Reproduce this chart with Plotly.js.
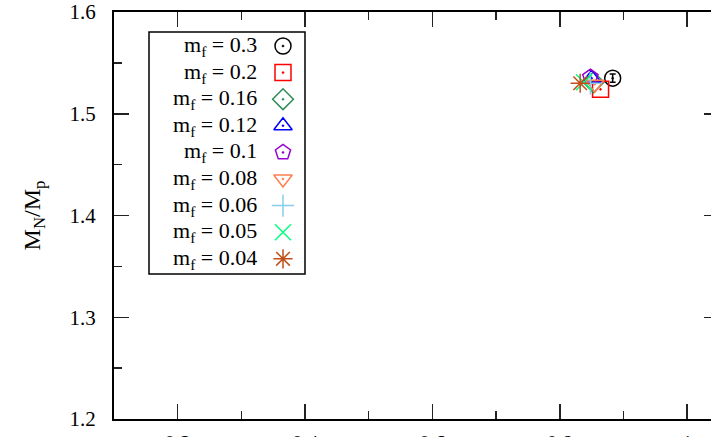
<!DOCTYPE html>
<html>
<head>
<meta charset="utf-8">
<script src="https://cdn.plot.ly/plotly-3.0.1.min.js"></script>
<style>
  html, body { margin: 0; padding: 0; overflow: hidden; background: #fff; }
  #grafico { width: 740px; height: 460px; }
</style>
</head>
<body>
<div id="grafico"></div>
<script>
// valores
const massas = ['0.3', '0.2', '0.16', '0.12', '0.1', '0.08', '0.06', '0.05', '0.04'];
const mpi = [0.883, 0.864, 0.853, 0.850, 0.848, 0.855, 0.848, 0.838, 0.832];
const razao = [1.535, 1.524, 1.531, 1.535, 1.536, 1.529, 1.530, 1.531, 1.530];
const erro = [0.004, 0, 0, 0, 0, 0, 0, 0, 0];

const simbolos = ['circle-open-dot', 'square-open-dot', 'diamond-open-dot', 'triangle-up-open-dot',
  'pentagon-open-dot', 'triangle-down-open-dot', 'cross-thin-open', 'x-thin-open', 'asterisk-open'];
const cores = ['#000000', '#ff0000', '#2e8b57', '#0000ff', '#9400d3', '#ff7f50', '#87ceeb', '#00ff7f', '#c0501a'];

const fonte = 'Liberation Serif';

// area do grafico em pixels: x 114..719, y 12..419
const L = 114, R = 719, T = 12, B = 419;
const W = R - L, H = B - T;

// caixa da legenda em pixels
const lgX0 = 149, lgX1 = 305, lgY0 = 32, lgY1 = 274;

const traces = [];
const anotacoes = [];

massas.forEach((m, i) => {
  const marker = {
    symbol: simbolos[i],
    size: 16,
    color: cores[i],
    line: { color: cores[i], width: 1.5 }
  };
  traces.push({
    type: 'scatter',
    mode: 'markers',
    x: [mpi[i]],
    y: [razao[i]],
    marker: marker,
    error_y: { type: 'data', array: [erro[i]], visible: erro[i] > 0, color: cores[i], thickness: 1.5, width: 3 },
    showlegend: false,
    hoverinfo: 'skip'
  });
  // simbolo da legenda
  const yl = 14 + i * 26.6;
  traces.push({
    type: 'scatter',
    mode: 'markers',
    xaxis: 'x2',
    yaxis: 'y2',
    x: [134],
    y: [yl],
    marker: marker,
    showlegend: false,
    hoverinfo: 'skip'
  });
  anotacoes.push({
    xref: 'x2', yref: 'y2',
    x: 110, y: yl,
    xanchor: 'right', yanchor: 'middle',
    text: 'm<sub>f</sub> = ' + m,
    showarrow: false,
    font: { family: fonte, size: 22, color: '#000' }
  });
});

const eixo = {
  showgrid: false,
  zeroline: false,
  showline: true,
  linecolor: '#000',
  linewidth: 2,
  mirror: 'ticks',
  ticks: 'inside',
  ticklen: 15,
  tickwidth: 1.5,
  tickcolor: '#222',
  ticklabeloverflow: 'allow',
  tickfont: { family: fonte, size: 21, color: '#000' }
};

const layout = {
  width: 740,
  height: 460,
  margin: { l: L, r: 740 - R, t: T, b: 460 - B },
  paper_bgcolor: '#fff',
  plot_bgcolor: '#fff',
  showlegend: false,
  xaxis: Object.assign({}, eixo, {
    range: [0.1, 1.05],
    tickvals: [0.2, 0.4, 0.6, 0.8, 1],
    ticktext: ['0.2', '0.4', '0.6', '0.8', '1'],
    ticklabelstandoff: 4,
    minor: { dtick: 0.1, tick0: 0, ticks: 'inside', ticklen: 8, tickwidth: 1.5, tickcolor: '#222' }
  }),
  yaxis: Object.assign({}, eixo, {
    range: [1.2, 1.6],
    tickvals: [1.2, 1.3, 1.4, 1.5, 1.6],
    ticktext: ['1.2', '1.3', '1.4', '1.5', '1.6'],
    ticklabelstandoff: 12,
    minor: { dtick: 0.05, tick0: 0, ticks: 'inside', ticklen: 8, tickwidth: 1.5, tickcolor: '#222' },
    title: { text: 'M<sub>N</sub>/M<sub>p</sub>', standoff: 22, font: { family: fonte, size: 24, color: '#000' } }
  }),
  xaxis2: {
    domain: [(lgX0 - L) / W, (lgX1 - L) / W],
    range: [0, lgX1 - lgX0],
    anchor: 'y2', visible: false, fixedrange: true
  },
  yaxis2: {
    domain: [(B - lgY1) / H, (B - lgY0) / H],
    range: [lgY1 - lgY0, 0],
    anchor: 'x2', visible: false, fixedrange: true
  },
  shapes: [{
    type: 'rect', xref: 'paper', yref: 'paper',
    x0: (lgX0 - L) / W, x1: (lgX1 - L) / W,
    y0: (B - lgY1) / H, y1: (B - lgY0) / H,
    line: { color: '#000', width: 1.5 },
    fillcolor: 'rgba(0,0,0,0)'
  }],
  annotations: anotacoes
};

Plotly.newPlot('grafico', traces, layout, { staticPlot: true });
</script>
</body>
</html>
